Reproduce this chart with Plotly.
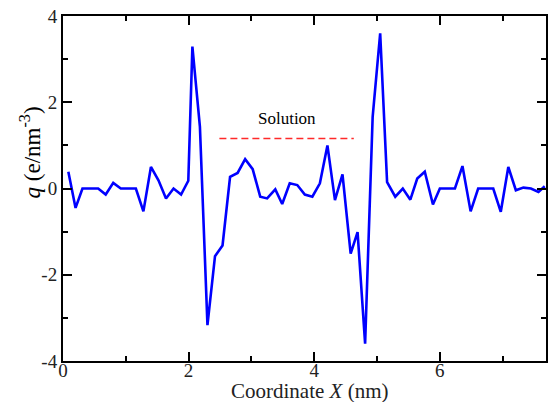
import plotly.graph_objects as go

# Charge density profile along coordinate X
x_nm = [0.085, 0.20, 0.31, 0.43, 0.56, 0.68, 0.80, 0.92, 1.04, 1.16,
        1.28, 1.40, 1.52, 1.64, 1.76, 1.88, 1.995, 2.06, 2.18, 2.30,
        2.42, 2.54, 2.66, 2.78, 2.90, 3.02, 3.14, 3.25, 3.38, 3.49,
        3.61, 3.73, 3.85, 3.97, 4.09, 4.21, 4.33, 4.45, 4.58, 4.69,
        4.81, 4.93, 5.05, 5.16, 5.29, 5.41, 5.53, 5.64, 5.76, 5.89,
        6.00, 6.12, 6.24, 6.36, 6.49, 6.61, 6.73, 6.85, 6.97, 7.09,
        7.21, 7.33, 7.45, 7.57, 7.67]
q_vals = [0.39, -0.45, 0.0, 0.0, 0.0, -0.14, 0.13, 0.0, 0.0, 0.0,
          -0.53, 0.50, 0.19, -0.23, 0.0, -0.14, 0.18, 3.29, 1.43, -3.17,
          -1.57, -1.32, 0.27, 0.36, 0.68, 0.45, -0.19, -0.23, -0.02, -0.36,
          0.12, 0.08, -0.14, -0.19, 0.12, 1.0, -0.27, 0.33, -1.51, -1.01,
          -3.6, 1.66, 3.6, 0.15, -0.19, 0.0, -0.26, 0.23, 0.39, -0.37,
          0.0, 0.0, 0.0, 0.52, -0.53, 0.0, 0.0, 0.0, -0.54, 0.50,
          -0.04, 0.02, 0.0, -0.08, 0.05]

# "Solution" reference segment
solution_x = [2.49, 4.63]
solution_y = [1.16, 1.16]
solution_label = "Solution"
solution_label_pos = (3.56, 1.63)

x_ticks = [0, 2, 4, 6]
x_ticktext = ["0", "2", "4", "6"]
y_ticks = [-4, -2, 0, 2, 4]
y_ticktext = ["-4", "-2", "0", "2", "4"]

FONT = "Liberation Serif"

fig = go.Figure()
fig.add_trace(go.Scatter(x=x_nm, y=q_vals, mode="lines",
                         line=dict(color="#0000ff", width=2.6),
                         showlegend=False))
fig.add_trace(go.Scatter(x=solution_x, y=solution_y, mode="lines",
                         line=dict(color="#ff2a2a", width=1.6, dash="7px,4px"),
                         showlegend=False))

fig.add_annotation(x=solution_label_pos[0], y=solution_label_pos[1],
                   text=solution_label, showarrow=False,
                   font=dict(family=FONT, size=17, color="black"))

fig.add_annotation(xref="paper", yref="paper", x=-0.068, y=0.605,
                   text="<i>q</i> (e/nm<sup>-3</sup>)", textangle=-90,
                   showarrow=False, xanchor="center", yanchor="middle",
                   font=dict(family=FONT, size=23, color="black"))

fig.add_annotation(xref="paper", yref="paper", x=0.511, y=-0.088,
                   text="Coordinate <i>X</i> (nm)", showarrow=False,
                   xanchor="center", yanchor="middle",
                   font=dict(family=FONT, size=21, color="#222"))

axis_common = dict(
    showline=True, linecolor="black", linewidth=2,
    ticks="inside", ticklen=9, tickwidth=2, tickcolor="black",
    mirror="ticks", showgrid=False, zeroline=False, automargin=False,
    tickfont=dict(family=FONT, size=19, color="#222"),
    minor=dict(ticks="inside", ticklen=5, tickwidth=2, tickcolor="black", dtick=1),
)

fig.update_xaxes(range=[0, 7.69], tickvals=x_ticks, ticktext=x_ticktext,
                 ticklabelstandoff=-9, **axis_common)
fig.update_yaxes(range=[-4, 4], tickvals=y_ticks, ticktext=y_ticktext, **axis_common)

fig.update_layout(width=552, height=402,
                  margin=dict(l=63, r=6, t=16, b=41),
                  paper_bgcolor="white", plot_bgcolor="white")

fig.write_html("out.html", config={"displayModeBar": False},
               post_script="document.body.style.margin='0';document.body.style.overflow='hidden';")
